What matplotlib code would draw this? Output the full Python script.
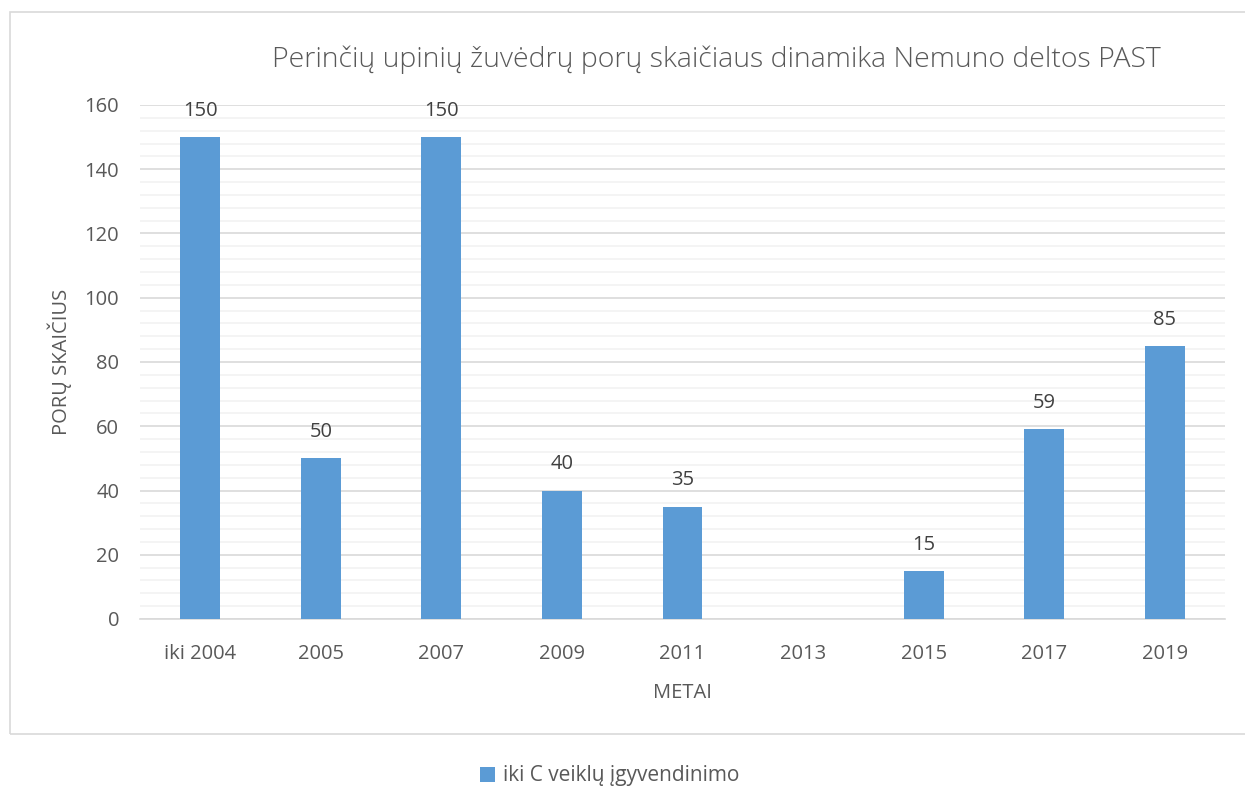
import matplotlib.pyplot as plt
from matplotlib.patches import Rectangle
from matplotlib.ticker import MultipleLocator

plt.rcParams['font.family'] = ['Open Sans', 'DejaVu Sans']

years  = ["iki 2004", "2005", "2007", "2009", "2011", "2013", "2015", "2017", "2019"]
pairs  = [150, 50, 150, 40, 35, 0, 15, 59, 85]
labels = ["150", "50", "150", "40", "35", "", "15", "59", "85"]

BAR   = "#5B9BD5"
TEXT  = "#595959"

fig = plt.figure(figsize=(12.45, 7.89), dpi=100)
W, H = 1245, 789
ax = fig.add_axes([140 / W, 1 - 619 / H, (1225 - 140) / W, (619 - 105) / H])

# rėmelis aplink diagramą
fig.patches.append(Rectangle((10 / W, 1 - 734 / H), 1.2, (734 - 12) / H,
                             transform=fig.transFigure, fill=False,
                             edgecolor="#D9D9D9", linewidth=1.2))

x = range(len(years))
bars = ax.bar(x, pairs, width=0.33, color=BAR, label="iki C veiklų įgyvendinimo", zorder=3)
for b, t in zip(bars, labels):
    if t:
        ax.text(b.get_x() + b.get_width() / 2, b.get_height() + 5, t,
                ha="center", va="bottom", fontsize=14.5, color="#404040")

ax.set_xlim(-0.5, len(years) - 0.5)
ax.set_ylim(0, 160)
ax.yaxis.set_major_locator(MultipleLocator(20))
ax.yaxis.set_minor_locator(MultipleLocator(4))
ax.grid(axis="y", which="major", color="#D9D9D9", linewidth=1.2, zorder=0)
ax.grid(axis="y", which="minor", color="#F2F2F2", linewidth=1.2, zorder=0)
ax.set_xticks(list(x))
ax.set_xticklabels(years)
ax.tick_params(axis="both", which="both", length=0, labelsize=14.5, colors=TEXT)
ax.tick_params(axis="x", pad=18)
ax.tick_params(axis="y", pad=15)
for s in ["top", "right", "left"]:
    ax.spines[s].set_visible(False)
ax.spines["bottom"].set_color("#D9D9D9")
ax.spines["bottom"].set_linewidth(1.2)

ax.set_xlabel("METAI", fontsize=14.5, color=TEXT, labelpad=14)
ax.set_ylabel("PORŲ SKAIČIUS", fontsize=14.5, color=TEXT, labelpad=9)

fig.text(716 / W, 1 - 60 / H, "Perinčių upinių žuvėdrų porų skaičiaus dinamika Nemuno deltos PAST",
         ha="center", va="center", fontsize=20.5, color=TEXT, fontweight="light")

fig.legend(handles=[bars], loc="center", bbox_to_anchor=(610 / W, 1 - 776 / H),
           frameon=False, fontsize=15, handlelength=0.7, handleheight=0.7,
           handletextpad=0.4, labelcolor=TEXT)

fig.savefig("out.png", dpi=100)
